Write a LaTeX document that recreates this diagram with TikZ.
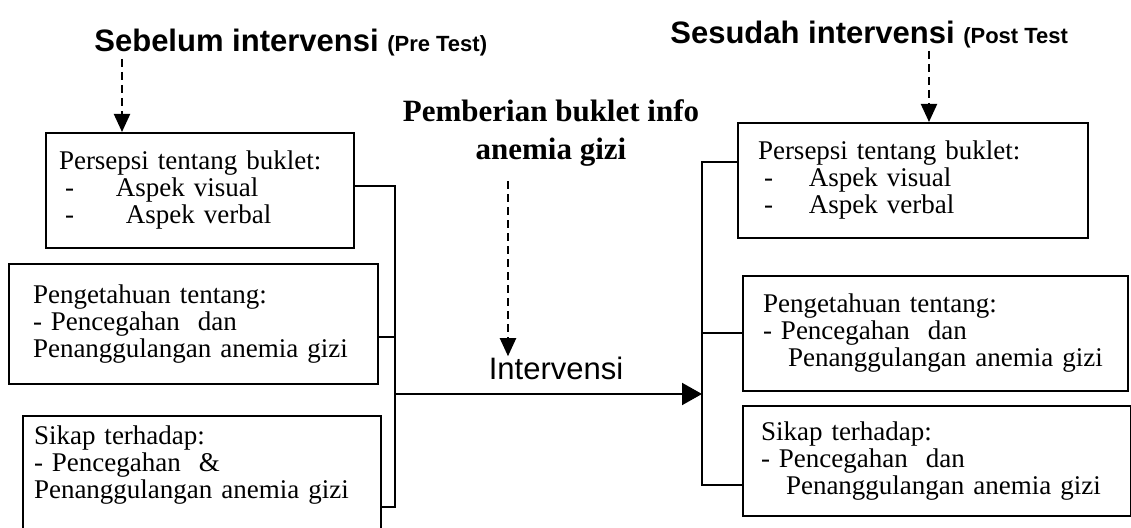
\documentclass[tikz,border=0pt]{standalone}
\usepackage{fontspec}
\setmainfont{Liberation Serif}
\newfontfamily\headfamily{Liberation Sans}
\usetikzlibrary{
	arrows.meta,
	positioning
}
\newcommand{\blockfont}{\fontsize{13.5}{13.5}\selectfont}
\newcommand{\hdfont}{\headfamily\bfseries\fontsize{15.5}{18}\selectfont}
\newcommand{\subhdfont}{\headfamily\bfseries\fontsize{11}{13}\selectfont}
\newcommand{\infofont}{\bfseries\fontsize{15.5}{19}\selectfont}
\newcommand{\intervfont}{\headfamily\fontsize{15.5}{18}\selectfont}
\newcommand{\aspek}[2]{\makebox[#1][l]{\hspace*{3pt}-}#2}
\tikzset{
	>={Triangle[length=9pt,width=8pt]},
	link/.style={line width=1pt},
	dasharrow/.style={->, line width=1pt, dash pattern=on 4pt off 2.5pt},
	mainarrow/.style={line width=1pt, -{Triangle[length=10pt,width=11pt]}},
	blocknode/.style={draw, line width=1pt, anchor=north west, align=left, inner ysep=0pt, font=\blockfont},
	headnode/.style={anchor=base west, inner sep=1pt, font=\hdfont}
}

\begin{document}
\begin{tikzpicture}[x=0.5pt, y=-0.5pt]
	\useasboundingbox (0,0) rectangle (1131,528);

	% judul
	\node[headnode] (pretitle) at (92,52) {Sebelum intervensi \subhdfont(Pre Test)};
	\node[headnode] (posttitle) at (668,44) {Sesudah intervensi \subhdfont(Post Test};
	\node[font=\infofont, align=center] (info) at (551,133) {Pemberian buklet info\\anemia gizi};
	\node[font=\intervfont, inner sep=0pt] (interv) at (556,368) {Intervensi};

	% kotak pre test
	\node[blocknode, text width=141pt, inner xsep=6.5pt, minimum height=57.5pt] (prepersepsi) at (45,132)
		{Persepsi tentang buklet:\\ \aspek{28.5pt}{Aspek visual}\\ \aspek{33.5pt}{Aspek verbal}};
	\node[blocknode, text width=160.5pt, inner xsep=12pt, minimum height=60pt] (prepengetahuan) at (8,263)
		{Pengetahuan tentang:\\- Pencegahan\ \ dan\\Penanggulangan anemia gizi};
	\node[blocknode, text width=168pt, inner xsep=5.5pt, inner ysep=5pt, text depth=46pt] (presikap) at (22,415)
		{Sikap terhadap:\\- Pencegahan\ \ \&\\Penanggulangan anemia gizi};

	% kotak post test
	\node[blocknode, text width=155pt, inner xsep=10pt, minimum height=57.5pt] (postpersepsi) at (737,122)
		{Persepsi tentang buklet:\\ \aspek{25.5pt}{Aspek visual}\\ \aspek{25.5pt}{Aspek verbal}};
	\node[blocknode, text width=172.5pt, inner xsep=10pt, minimum height=57.5pt] (postpengetahuan) at (742,275)
		{Pengetahuan tentang:\\- Pencegahan\ \ dan\\\hspace*{12.5pt}Penanggulangan anemia gizi};
	\node[blocknode, text width=176pt, inner xsep=9pt, minimum height=55pt] (postsikap) at (742,405)
		{Sikap terhadap:\\- Pencegahan\ \ dan\\\hspace*{12.5pt}Penanggulangan anemia gizi};

	% titik bantu
	\coordinate (prearrow) at (122,0);
	\coordinate (postarrow) at (929,0);
	\coordinate (infoarrow) at (508,0);
	\coordinate (pretop) at (395,186);
	\coordinate (premid) at (395,337);
	\coordinate (prebot) at (395,507);
	\coordinate (prejoin) at (395,394);
	\coordinate (posttop) at (702,162);
	\coordinate (postmid) at (702,333);
	\coordinate (postbot) at (702,485);
	\coordinate (postjoin) at (702,394);

	% panah putus-putus
	\draw[dasharrow] (pretitle.south -| prearrow) -- (prepersepsi.north -| prearrow);
	\draw[dasharrow] (posttitle.south -| postarrow) -- (postpersepsi.north -| postarrow);
	\draw[dasharrow] ([yshift=-4pt]info.south -| infoarrow) -- (interv.north -| infoarrow);

	% garis penghubung
	\draw[link] (prepersepsi.east |- pretop) -- (pretop) -- (prebot) -- (presikap.east |- prebot);
	\draw[link] (prepengetahuan.east |- premid) -- (premid);
	\draw[link] (postpersepsi.west |- posttop) -- (posttop) -- (postbot) -- (postsikap.west |- postbot);
	\draw[link] (postpengetahuan.west |- postmid) -- (postmid);
	\draw[mainarrow] (prejoin) -- (postjoin);
\end{tikzpicture}
\end{document}
